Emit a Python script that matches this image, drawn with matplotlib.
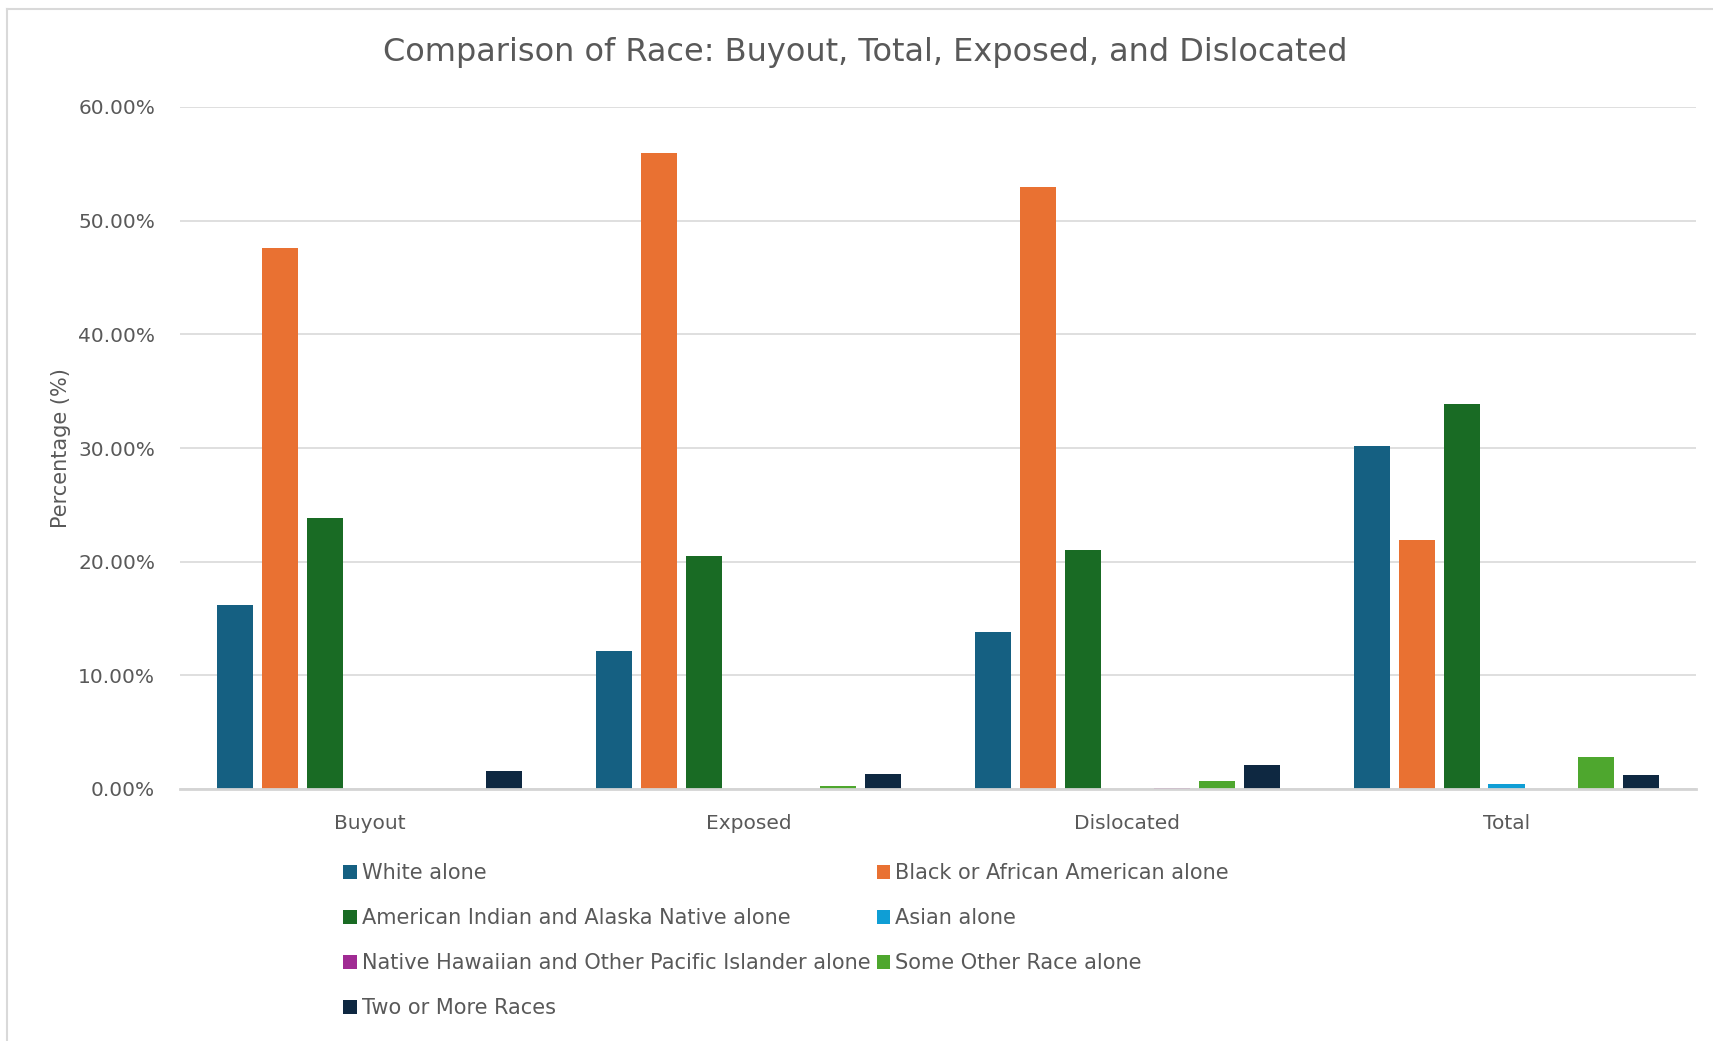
import numpy as np
import matplotlib
matplotlib.use("Agg")
import matplotlib.pyplot as plt
from matplotlib.lines import Line2D
from matplotlib.ticker import PercentFormatter

# donnees (%)
categories = ["Buyout", "Exposed", "Dislocated", "Total"]
white = [16.15, 12.1, 13.85, 30.2]
black = [47.6, 55.95, 53.0, 21.9]
amInd = [23.85, 20.5, 21.05, 33.85]
asian = [0.0, 0.03, 0.0, 0.47]
nhpi = [0.0, 0.03, 0.12, 0.0]
other = [0.0, 0.29, 0.7, 2.84]
twoMore = [1.54, 1.35, 2.14, 1.26]

series = [white, black, amInd, asian, nhpi, other, twoMore]
labels = ["White alone", "Black or African American alone",
          "American Indian and Alaska Native alone", "Asian alone",
          "Native Hawaiian and Other Pacific Islander alone",
          "Some Other Race alone", "Two or More Races"]
couleurs = ["#156082", "#E97132", "#196B24", "#0F9ED5",
            "#A02B93", "#4EA72E", "#0E2841"]

gris = "#595959"

fig = plt.figure(figsize=(17.13, 10.41), dpi=100)
ax = fig.add_axes([180 / 1713, 1 - 789 / 1041,
                   (1696 - 180) / 1713, (789 - 107) / 1041])

x = np.arange(len(categories))
pas = 0.118
largeur = 0.095
barres = []
for i, (vals, lab, c) in enumerate(zip(series, labels, couleurs)):
    b = ax.bar(x + (i - 3) * pas, vals, largeur, color=c, label=lab,
               zorder=3)
    barres.append(b)

ax.set_xlim(-0.5, 3.5)
ax.set_ylim(0, 60)
ax.set_yticks(np.arange(0, 61, 10))
ax.yaxis.set_major_formatter(PercentFormatter(decimals=2))
ax.set_xticks(x)
ax.set_xticklabels(categories)
ax.tick_params(axis="both", length=0, colors=gris, labelsize=14.5)
ax.tick_params(axis="x", pad=18)
ax.tick_params(axis="y", pad=18)
ax.grid(axis="y", color="#D9D9D9", linewidth=1.2, zorder=0)
for s in ["top", "right", "left"]:
    ax.spines[s].set_visible(False)
ax.spines["bottom"].set_color("#D4D4D4")
ax.spines["bottom"].set_linewidth(2)
ax.spines["bottom"].set_zorder(4)

ax.set_ylabel("Percentage (%)", color=gris, fontsize=15, labelpad=5)

fig.text(865 / 1713, 1 - 53 / 1041,
         "Comparison of Race: Buyout, Total, Exposed, and Dislocated",
         ha="center", va="center", fontsize=23, color=gris)

# legende lue ligne par ligne
ordre = [0, 2, 4, 6, 1, 3, 5]
leg = fig.legend([barres[i] for i in ordre], [labels[i] for i in ordre],
                 ncol=2, loc="upper left",
                 bbox_to_anchor=(343 / 1713, 1 - 863 / 1041),
                 frameon=False, fontsize=15, handlelength=0.65,
                 handleheight=0.65, handletextpad=0.25, columnspacing=0.3,
                 labelspacing=1.2, borderpad=0, borderaxespad=0)
for t in leg.get_texts():
    t.set_color(gris)

# cadre exterieur
fig.add_artist(Line2D([7 / 1713, 7 / 1713], [0, 1 - 9 / 1041],
                      transform=fig.transFigure, color="#D9D9D9", lw=1.5))
fig.add_artist(Line2D([7 / 1713, 1], [1 - 9 / 1041, 1 - 9 / 1041],
                      transform=fig.transFigure, color="#D9D9D9", lw=1.5))

fig.savefig("out.png", dpi=100)
